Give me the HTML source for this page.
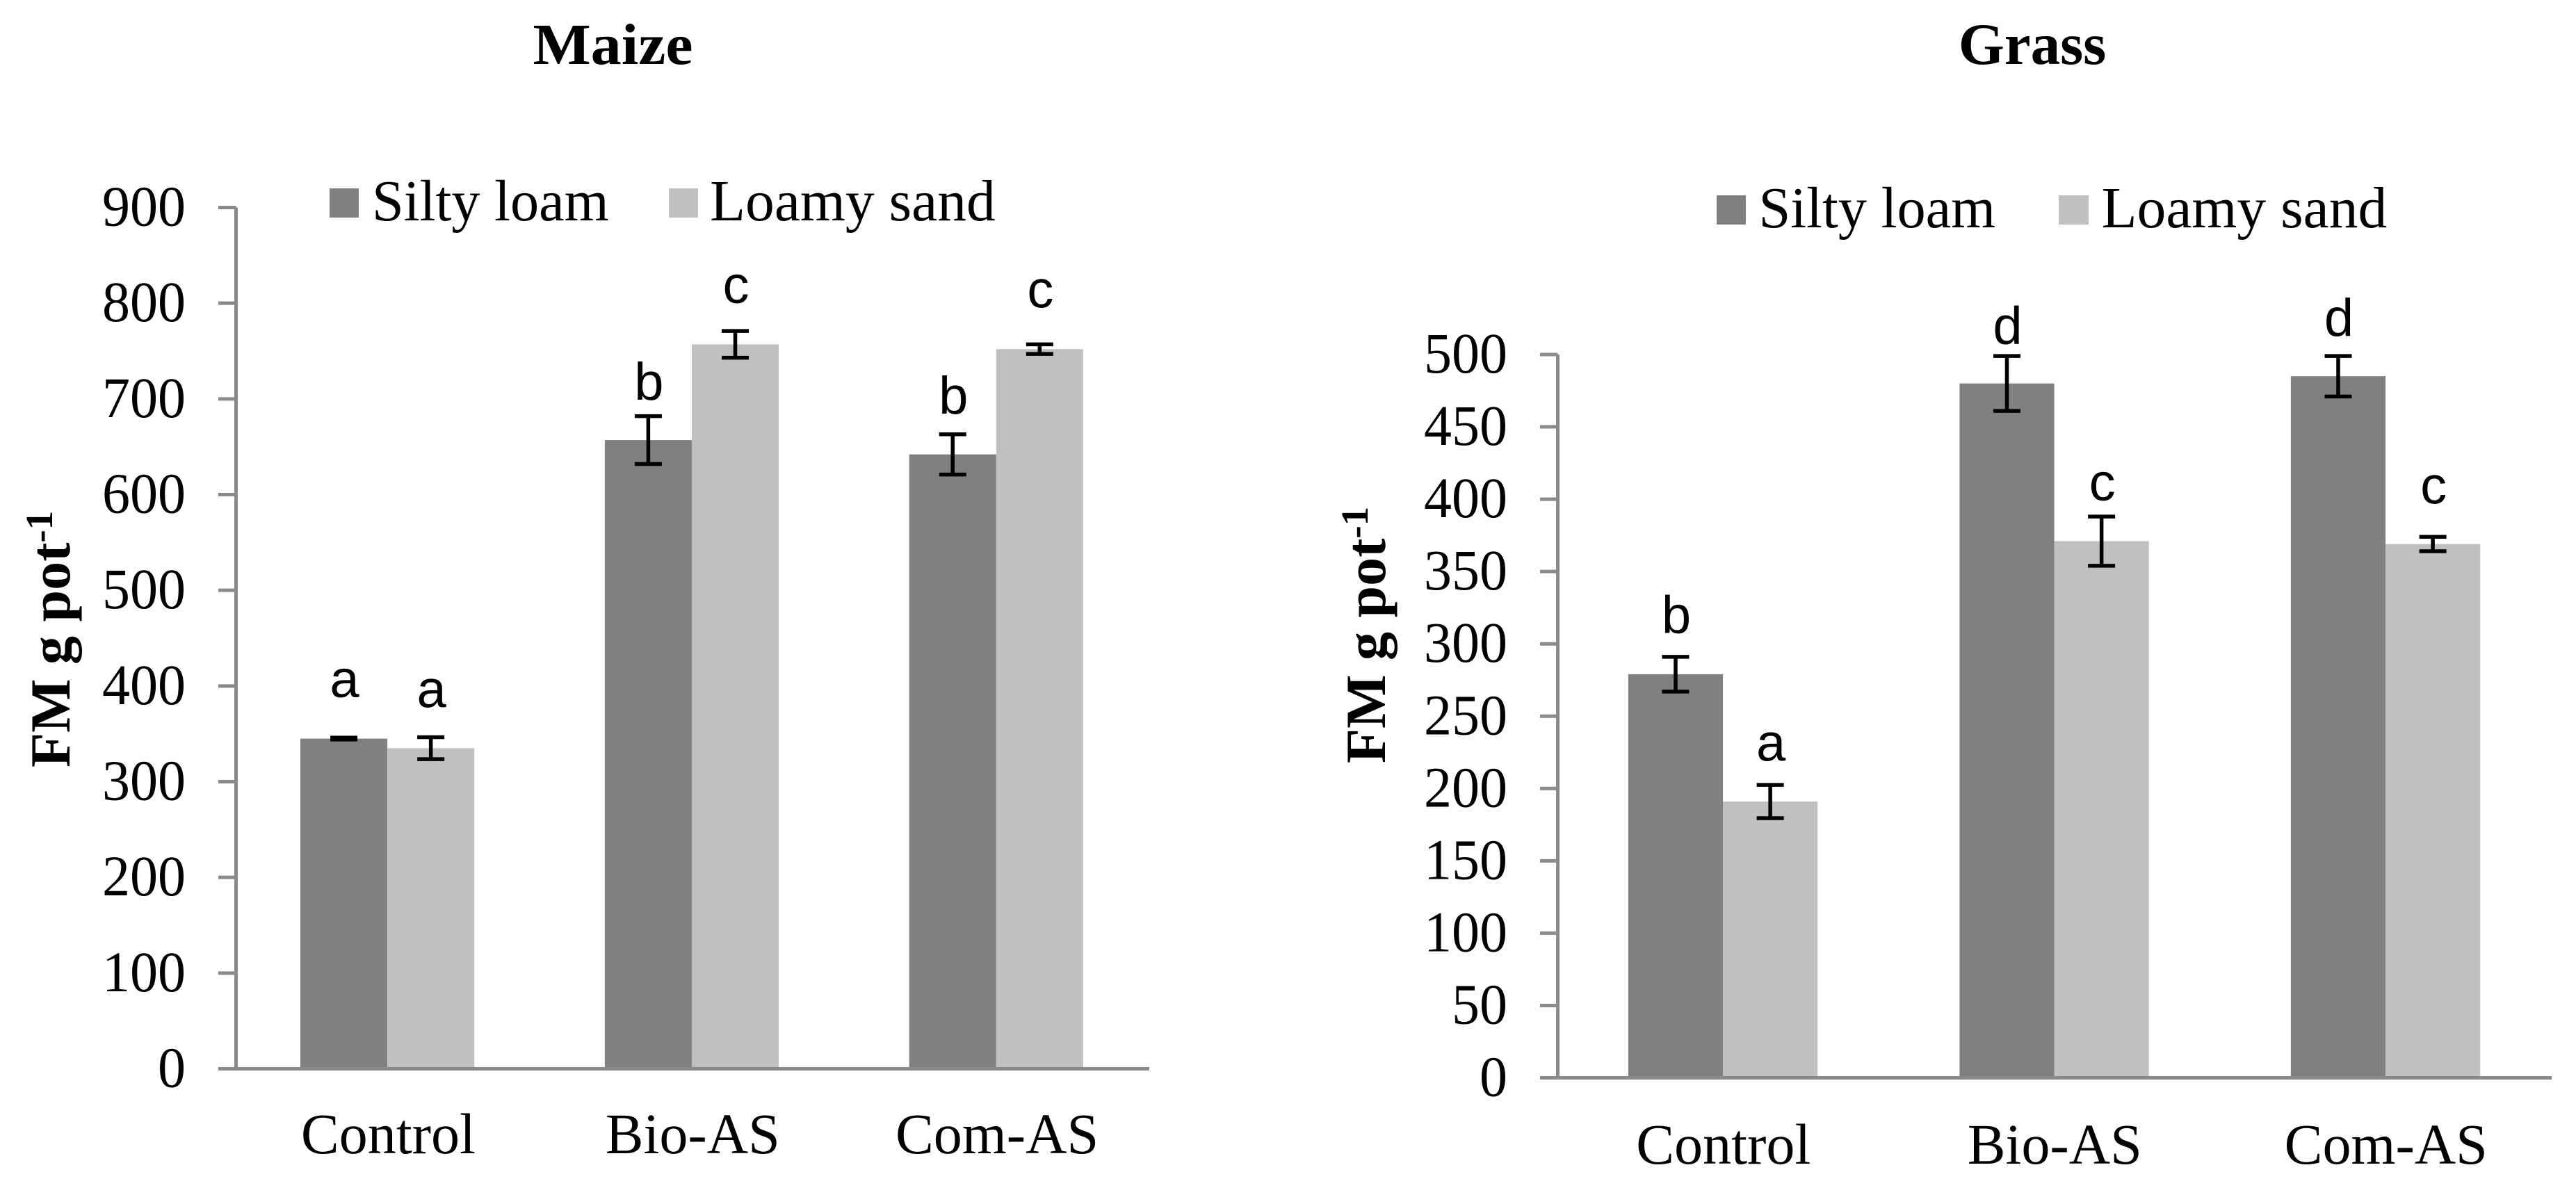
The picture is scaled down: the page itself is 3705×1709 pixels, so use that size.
<!DOCTYPE html>
<html lang="en">
<head>
<meta charset="utf-8">
<title>FM g pot-1 for Maize and Grass</title>
<style>
html,body{margin:0;padding:0;background:#fff;width:3705px;height:1709px;overflow:hidden}
svg{display:block}
text{font-family:"Liberation Serif",serif;fill:#000}
.letter{font-family:"Liberation Sans",sans-serif;font-size:76px;text-anchor:middle}
.tick{font-size:82.5px;text-anchor:end}
.cat{font-size:83px;text-anchor:middle}
.leg{font-size:84px}
.title{font-weight:bold;text-anchor:middle}
.ytitle{font-size:82px;font-weight:bold}
</style>
</head>
<body>
<svg id="fig" xmlns="http://www.w3.org/2000/svg" width="3705" height="1709" viewBox="0 0 3705 1709">
  <rect x="0" y="0" width="3705" height="1709" fill="#ffffff"/>

  <g id="maize">
    <text class="title" font-size="84" transform="translate(881.5 92) scale(1.05 1)">Maize</text>
    <text class="ytitle" transform="translate(100 1104) rotate(-90)">FM g pot<tspan font-size="55" dy="-25">-1</tspan></text>
    <g>
      <rect x="474" y="271" width="42" height="42" fill="#808080"/>
      <text class="leg" transform="translate(535 317) scale(.98 1)">Silty loam</text>
      <rect x="962" y="271" width="42" height="42" fill="#c0c0c0"/>
      <text class="leg" transform="translate(1021 317) scale(.995 1)">Loamy sand</text>
    </g>
  </g>

  <g id="grass">
    <text class="title" font-size="85" transform="translate(2923 92)">Grass</text>
    <text class="ytitle" transform="translate(1992 1098) rotate(-90)">FM g pot<tspan font-size="55" dy="-25">-1</tspan></text>
    <g>
      <rect x="2469" y="281" width="42" height="42" fill="#808080"/>
      <text class="leg" transform="translate(2529.5 327) scale(.98 1)">Silty loam</text>
      <rect x="2961" y="281" width="43" height="42" fill="#c0c0c0"/>
      <text class="leg" transform="translate(3022.5 327) scale(.995 1)">Loamy sand</text>
    </g>
  </g>
</svg>

<script>
// Shared data
var categories = ['Control', 'Bio-AS', 'Com-AS'];

// Maize values
var maizeTicks = [0, 100, 200, 300, 400, 500, 600, 700, 800, 900];
var maizeSilty = [345, 657, 642];
var maizeLoamy = [335, 757, 752];
var maizeSiltyErr = [1, 25, 21];
var maizeLoamyErr = [11.5, 14, 5];
var maizeSiltyLetters = ['a', 'b', 'b'];
var maizeLoamyLetters = ['a', 'c', 'c'];
var maizeSiltyLetterLift = [43, 18, 22.5];
var maizeLoamyLetterLift = [32, 30, 39];

// Grass values
var grassTicks = [0, 50, 100, 150, 200, 250, 300, 350, 400, 450, 500];
var grassSilty = [279, 480, 485];
var grassLoamy = [191, 371, 369];
var grassSiltyErr = [12, 19, 14];
var grassLoamyErr = [11.5, 17, 5];
var grassSiltyLetters = ['b', 'd', 'd'];
var grassLoamyLetters = ['a', 'c', 'c'];
var grassSiltyLetterLift = [17, 9, 14.5];
var grassLoamyLetterLift = [17, 11.5, 23.5];

var NS = 'http://www.w3.org/2000/svg';

function make(parent, tag, attrs, txt) {
  var el = document.createElementNS(NS, tag);
  for (var k in attrs) { el.setAttribute(k, attrs[k]); }
  if (txt !== undefined) { el.textContent = txt; }
  parent.appendChild(el);
  return el;
}

function drawChart(cfg) {
  var root = document.getElementById(cfg.id);
  var yMax = cfg.ticks[cfg.ticks.length - 1];
  var y = function (v) { return cfg.y0 - (v / yMax) * (cfg.y0 - cfg.yTop); };
  var catW = (cfg.xEnd - cfg.x0) / categories.length;
  var barW = catW / 3.5;
  var catX = function (i) { return cfg.x0 + catW * (i + 0.5); };
  var axisColor = '#8a8a8a';
  var ink = '#000000';

  function series(values, errs, letters, lifts, color, offset, key) {
    values.forEach(function (v, i) {
      var left = catX(i) + offset * barW + cfg.barShift;
      var bar = make(root, 'rect', { x: left, y: y(v), width: barW, height: cfg.y0 - y(v), fill: color });
      
      
    });
    values.forEach(function (v, i) {
      var cx = catX(i) + offset * barW + cfg.barShift + barW / 2;
      var hi = y(v + errs[i]);
      var lo = y(v - errs[i]);
      var eb = make(root, 'path', {
        d: 'M' + (cx - 19.5) + ' ' + hi + 'H' + (cx + 19.5) + 'M' + cx + ' ' + hi + 'V' + lo + 'M' + (cx - 19.5) + ' ' + lo + 'H' + (cx + 19.5),
        fill: 'none', stroke: ink, 'stroke-width': 5.5
      });
      
      
      var lab = make(root, 'text', { 'class': 'letter', x: cx + 1, y: y(v + errs[i] + lifts[i]) + 1 }, letters[i]);
      
      
    });
  }

  series(cfg.silty, cfg.siltyErr, cfg.siltyLetters, cfg.siltyLift, '#808080', -1, 'silty-loam');
  series(cfg.loamy, cfg.loamyErr, cfg.loamyLetters, cfg.loamyLift, '#c0c0c0', 0, 'loamy-sand');

  var yAxis = make(root, 'line', { x1: cfg.x0, x2: cfg.x0, y1: y(yMax), y2: cfg.y0, stroke: axisColor, 'stroke-width': 5 });
  
  

  var xAxis = make(root, 'line', { x1: cfg.tickStart, x2: cfg.xEnd, y1: cfg.y0, y2: cfg.y0, stroke: axisColor, 'stroke-width': 5 });
  
  

  cfg.ticks.forEach(function (t) {
    var mark = make(root, 'line', { x1: cfg.tickStart, x2: cfg.x0, y1: y(t), y2: y(t), stroke: axisColor, 'stroke-width': 5 });
    
    
    var lbl = make(root, 'text', { 'class': 'tick', transform: 'translate(' + cfg.tickLabelX + ' ' + (y(t) + 26) + ') scale(.97 1)' }, String(t));
    
    
  });

  categories.forEach(function (c, i) {
    var lbl = make(root, 'text', { 'class': 'cat', transform: 'translate(' + catX(i) + ' ' + cfg.catY + ') scale(.99 1)' }, c);
    
    
  });
}

drawChart({
  id: 'maize', ticks: maizeTicks,
  silty: maizeSilty, loamy: maizeLoamy,
  siltyErr: maizeSiltyErr, loamyErr: maizeLoamyErr,
  siltyLetters: maizeSiltyLetters, loamyLetters: maizeLoamyLetters,
  siltyLift: maizeSiltyLetterLift, loamyLift: maizeLoamyLetterLift,
  x0: 339.5, xEnd: 1653, y0: 1537.5, yTop: 298.5, tickStart: 314, tickLabelX: 267, catY: 1659, barShift: -1.3
});

drawChart({
  id: 'grass', ticks: grassTicks,
  silty: grassSilty, loamy: grassLoamy,
  siltyErr: grassSiltyErr, loamyErr: grassLoamyErr,
  siltyLetters: grassSiltyLetters, loamyLetters: grassLoamyLetters,
  siltyLift: grassSiltyLetterLift, loamyLift: grassLoamyLetterLift,
  x0: 2240.5, xEnd: 3670, y0: 1550.5, yTop: 510, tickStart: 2215, tickLabelX: 2168, catY: 1674, barShift: -0.7
});
</script>
</body>
</html>
